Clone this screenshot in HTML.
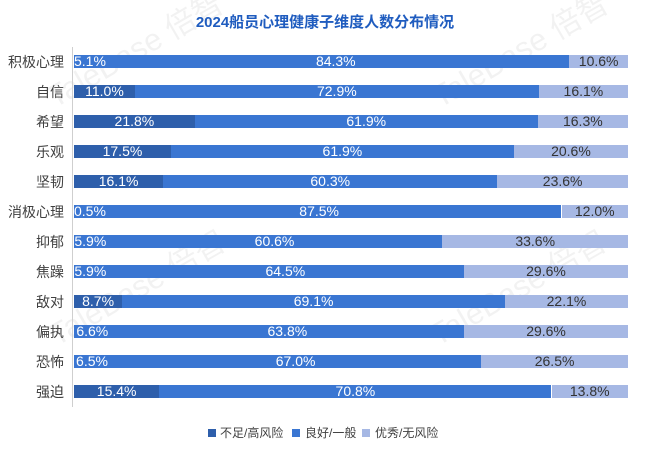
<!DOCTYPE html>
<html>
<head>
<meta charset="utf-8">
<style>
html,body{margin:0;padding:0;background:#fff;}
body{width:650px;height:454px;position:relative;overflow:hidden;font-family:"Liberation Sans","Noto Sans CJK SC",sans-serif;}
.wm{position:absolute;font-family:"Liberation Sans","Noto Sans CJK SC",sans-serif;font-size:31px;color:rgba(0,0,0,0.05);white-space:nowrap;transform:translate(-50%,-50%) rotate(-30deg);line-height:1;}
.title{position:absolute;left:0;width:650px;top:12px;height:22px;line-height:22px;text-align:center;font-size:15px;font-weight:bold;color:#1f5cbf;font-family:"Liberation Sans","Noto Sans CJK SC",sans-serif;}
.axis{position:absolute;left:72px;top:47px;width:1px;height:360px;background:#cfcfcf;}
.cat{position:absolute;right:586px;height:20px;line-height:20px;font-size:14px;color:#404040;white-space:nowrap;font-family:"Liberation Sans","Noto Sans CJK SC",sans-serif;}
.row{position:absolute;left:0;width:650px;height:13px;}
.seg{position:absolute;top:0;height:13px;display:flex;justify-content:center;align-items:center;white-space:nowrap;font-size:14px;line-height:13px;}
.seg span{position:relative;z-index:2;}
.d{background:#2e5fab;color:#fff;}
.m{background:#3a76d2;color:#fff;}
.l{background:#a6b8e4;color:#333;}
.st{justify-content:flex-start;}
.leg{position:absolute;top:425px;height:16px;line-height:16px;font-size:12px;color:#404040;white-space:nowrap;font-family:"Liberation Sans","Noto Sans CJK SC",sans-serif;}
.sq{position:absolute;top:429px;width:8px;height:8px;}
</style>
</head>
<body>
<div class="wm" style="left:135px;top:50px;">TaleBase 倍智</div>
<div class="wm" style="left:520px;top:50px;">TaleBase 倍智</div>
<div class="wm" style="left:137px;top:288px;">TaleBase 倍智</div>
<div class="wm" style="left:518px;top:288px;">TaleBase 倍智</div>

<div class="title">2024船员心理健康子维度人数分布情况</div>
<div class="axis"></div>

<div class="cat" style="top:51.5px;">积极心理</div>
<div class="cat" style="top:81.5px;">自信</div>
<div class="cat" style="top:111.5px;">希望</div>
<div class="cat" style="top:141.5px;">乐观</div>
<div class="cat" style="top:171.5px;">坚韧</div>
<div class="cat" style="top:201.5px;">消极心理</div>
<div class="cat" style="top:231.5px;">抑郁</div>
<div class="cat" style="top:261.5px;">焦躁</div>
<div class="cat" style="top:291.5px;">敌对</div>
<div class="cat" style="top:321.5px;">偏执</div>
<div class="cat" style="top:351.5px;">恐怖</div>
<div class="cat" style="top:381.5px;">强迫</div>

<!-- row 1 -->
<div class="row" style="top:55px;">
<div class="seg m st" style="left:74px;width:28.3px;"><span>5.1%</span></div>
<div class="seg m" style="left:102.3px;width:467px;"><span>84.3%</span></div>
<div class="seg l" style="left:569.3px;width:58.7px;"><span>10.6%</span></div>
</div>
<!-- row 2 -->
<div class="row" style="top:85px;">
<div class="seg d" style="left:74px;width:60.9px;"><span>11.0%</span></div>
<div class="seg m" style="left:134.9px;width:403.9px;"><span>72.9%</span></div>
<div class="seg l" style="left:538.8px;width:89.2px;"><span>16.1%</span></div>
</div>
<!-- row 3 -->
<div class="row" style="top:115px;">
<div class="seg d" style="left:74px;width:120.8px;"><span>21.8%</span></div>
<div class="seg m" style="left:194.8px;width:342.9px;"><span>61.9%</span></div>
<div class="seg l" style="left:537.7px;width:90.3px;"><span>16.3%</span></div>
</div>
<!-- row 4 -->
<div class="row" style="top:145px;">
<div class="seg d" style="left:74px;width:96.95px;"><span>17.5%</span></div>
<div class="seg m" style="left:170.95px;width:342.95px;"><span>61.9%</span></div>
<div class="seg l" style="left:513.9px;width:114.1px;"><span>20.6%</span></div>
</div>
<!-- row 5 -->
<div class="row" style="top:175px;">
<div class="seg d" style="left:74px;width:89.2px;"><span>16.1%</span></div>
<div class="seg m" style="left:163.2px;width:334.1px;"><span>60.3%</span></div>
<div class="seg l" style="left:497.3px;width:130.7px;"><span>23.6%</span></div>
</div>
<!-- row 6 -->
<div class="row" style="top:205px;">
<div class="seg m st" style="left:74px;width:2.8px;"><span>0.5%</span></div>
<div class="seg m" style="left:76.8px;width:484.7px;"><span>87.5%</span></div>
<div class="seg l" style="left:561.5px;width:66.5px;"><span>12.0%</span></div>
</div>
<!-- row 7 -->
<div class="row" style="top:235px;">
<div class="seg m" style="left:74px;width:32.7px;"><span>5.9%</span></div>
<div class="seg m" style="left:106.7px;width:335.7px;"><span>60.6%</span></div>
<div class="seg l" style="left:442.4px;width:185.6px;"><span>33.6%</span></div>
</div>
<!-- row 8 -->
<div class="row" style="top:265px;">
<div class="seg m" style="left:74px;width:32.7px;"><span>5.9%</span></div>
<div class="seg m" style="left:106.7px;width:357.3px;"><span>64.5%</span></div>
<div class="seg l" style="left:464px;width:164px;"><span>29.6%</span></div>
</div>
<!-- row 9 -->
<div class="row" style="top:295px;">
<div class="seg d" style="left:74px;width:48.2px;"><span>8.7%</span></div>
<div class="seg m" style="left:122.2px;width:382.8px;"><span>69.1%</span></div>
<div class="seg l" style="left:505px;width:123px;"><span>22.1%</span></div>
</div>
<!-- row 10 -->
<div class="row" style="top:325px;">
<div class="seg m" style="left:74px;width:36.6px;"><span>6.6%</span></div>
<div class="seg m" style="left:110.6px;width:353.5px;"><span>63.8%</span></div>
<div class="seg l" style="left:464.1px;width:163.9px;"><span>29.6%</span></div>
</div>
<!-- row 11 -->
<div class="row" style="top:355px;">
<div class="seg m" style="left:74px;width:36px;"><span>6.5%</span></div>
<div class="seg m" style="left:110px;width:371.2px;"><span>67.0%</span></div>
<div class="seg l" style="left:481.2px;width:146.8px;"><span>26.5%</span></div>
</div>
<!-- row 12 -->
<div class="row" style="top:385px;">
<div class="seg d" style="left:74px;width:85.3px;"><span>15.4%</span></div>
<div class="seg m" style="left:159.3px;width:392.2px;"><span>70.8%</span></div>
<div class="seg l" style="left:551.5px;width:76.5px;"><span>13.8%</span></div>
</div>

<!-- legend -->
<div class="sq" style="left:208px;background:#2e5fab;"></div>
<div class="leg" style="left:220px;">不足/高风险</div>
<div class="sq" style="left:292px;background:#3a76d2;"></div>
<div class="leg" style="left:305px;">良好/一般</div>
<div class="sq" style="left:362px;background:#a6b8e4;"></div>
<div class="leg" style="left:375px;">优秀/无风险</div>
</body>
</html>
